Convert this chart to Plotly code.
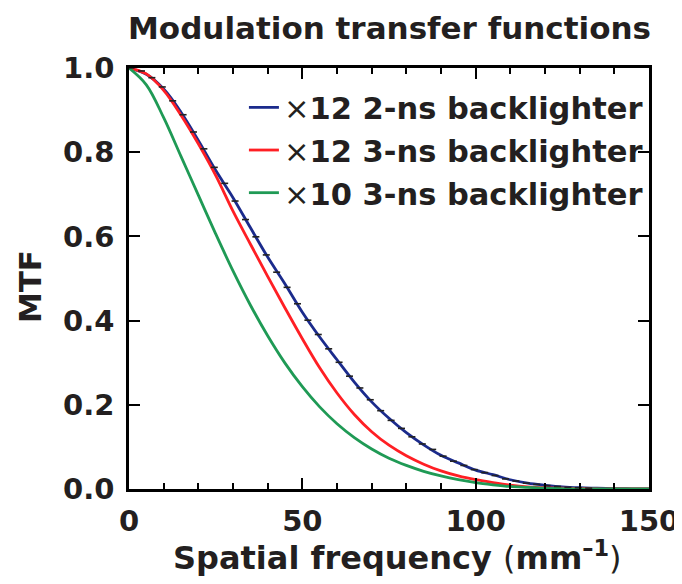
import plotly.graph_objects as go

# spatial frequency grid (mm^-1)
freq = [0, 5, 10, 15, 20, 25, 30, 35, 40, 45, 50, 55, 60, 65, 70, 75,
        80, 85, 90, 95, 100, 105, 110, 115, 120, 125, 130, 135, 140, 145, 150]

mtf_x12_2ns = [1.0, 0.985, 0.950, 0.895, 0.828, 0.757, 0.692, 0.621, 0.551, 0.487,
               0.420, 0.361, 0.307, 0.254, 0.207, 0.168, 0.134, 0.105, 0.080, 0.062,
               0.045, 0.034, 0.022, 0.014, 0.009, 0.005, 0.003, 0.002, 0.001, 0.0005, 0.0]
mtf_x12_3ns = [1.0, 0.986, 0.947, 0.888, 0.820, 0.745, 0.660, 0.582, 0.505, 0.430,
               0.357, 0.288, 0.228, 0.177, 0.136, 0.104, 0.079, 0.059, 0.043, 0.031,
               0.022, 0.015, 0.009, 0.005, 0.003, 0.002, 0.001, 0.0, 0.0, 0.0, 0.0]
mtf_x10_3ns = [1.0, 0.960, 0.882, 0.790, 0.698, 0.606, 0.518, 0.437, 0.364, 0.299,
               0.243, 0.195, 0.155, 0.122, 0.095, 0.073, 0.056, 0.042, 0.031, 0.022,
               0.015, 0.010, 0.006, 0.004, 0.002, 0.001, 0.0, 0.0, 0.0, 0.0, 0.0]

# measured points on the x12 2-ns curve
meas_freq = [0.6, 3.6, 6.6, 9.6, 12.6, 15.6, 18.6, 21.6, 24.6, 27.6, 30.6, 33.6, 36.6,
             39.6, 42.6, 45.6, 48.6, 51.6, 54.6, 57.6, 60.6, 63.6, 66.6, 69.6, 72.6,
             75.6, 78.6, 81.6, 84.6, 87.6, 90.6, 93.6, 96.6, 99.6, 102.6, 105.6, 108.6,
             111.6, 114.6, 117.6, 120.6, 123.6, 126.6, 129.6, 132.6]
meas_mtf = [1.0, 0.993, 0.977, 0.955, 0.922, 0.889, 0.848, 0.808, 0.764, 0.726, 0.684,
            0.640, 0.599, 0.556, 0.515, 0.479, 0.440, 0.401, 0.367, 0.333, 0.301, 0.268,
            0.240, 0.212, 0.186, 0.163, 0.144, 0.124, 0.107, 0.094, 0.078, 0.066, 0.056,
            0.046, 0.039, 0.032, 0.024, 0.019, 0.014, 0.011, 0.008, 0.006, 0.004, 0.003,
            0.002]

FONT = "DejaVu Sans"
INK = "#231f20"
X = '<span style="font-weight:normal">\u00d7</span>'

series = [
    (X + "12 2-ns backlighter", mtf_x12_2ns, "#1b2b8c"),
    (X + "12 3-ns backlighter", mtf_x12_3ns, "#ff1f24"),
    (X + "10 3-ns backlighter", mtf_x10_3ns, "#1f9a55"),
]

fig = go.Figure()
for name, vals, color in series:
    fig.add_trace(go.Scatter(x=freq, y=vals, name=name, mode="lines",
                             line=dict(color=color, width=2.8, shape="spline")))

fig.add_trace(go.Scatter(x=meas_freq, y=meas_mtf, mode="markers", showlegend=False,
                         marker=dict(symbol="line-ew", size=5, color="#222",
                                     line=dict(color="#222", width=1.6))))

axis_common = dict(showgrid=False, zeroline=False, showline=True, linecolor="black",
                   linewidth=2.5, mirror="ticks", ticks="inside", ticklen=11,
                   tickwidth=2.2, tickcolor="black",
                   tickfont=dict(family=FONT, size=29, color=INK, weight="bold"))

fig.update_xaxes(range=[0, 150], dtick=50, tick0=0, ticklabelstandoff=4,
                 minor=dict(dtick=10, ticks="inside", ticklen=6, tickwidth=2,
                            tickcolor="black"),
                 **axis_common)
fig.update_yaxes(range=[0, 1], dtick=0.2, tick0=0, tickformat=".1f",
                 ticklabelstandoff=6, **axis_common)

# the page body adds an 8 px offset, so margins are shifted to compensate
fig.update_layout(
    width=682, height=584,
    margin=dict(l=121, r=41, t=60, b=103),
    plot_bgcolor="white", paper_bgcolor="white",
    showlegend=True,
    legend=dict(x=0.221, y=0.969, xanchor="left", yanchor="top",
                bgcolor="rgba(0,0,0,0)", borderwidth=0,
                font=dict(family=FONT, size=30.5, color=INK, weight="bold")),
    annotations=[
        dict(text="<b>Modulation transfer functions</b>", xref="paper", yref="paper",
             x=0.5, y=1.095, xanchor="center", yanchor="middle", showarrow=False,
             font=dict(family=FONT, size=31, color=INK)),
        dict(text="<b>MTF</b>", xref="paper", yref="paper", x=-0.19, y=0.48,
             xanchor="center", yanchor="middle", textangle=-90, showarrow=False,
             font=dict(family=FONT, size=31, color=INK)),
        dict(text="<b>Spatial frequency </b>(<b>mm<sup>\u20131</sup></b>)",
             xref="paper", yref="paper", x=0.517, y=-0.16, xanchor="center",
             yanchor="middle", showarrow=False,
             font=dict(family=FONT, size=32, color=INK)),
    ],
)

fig.write_html("out.html")
